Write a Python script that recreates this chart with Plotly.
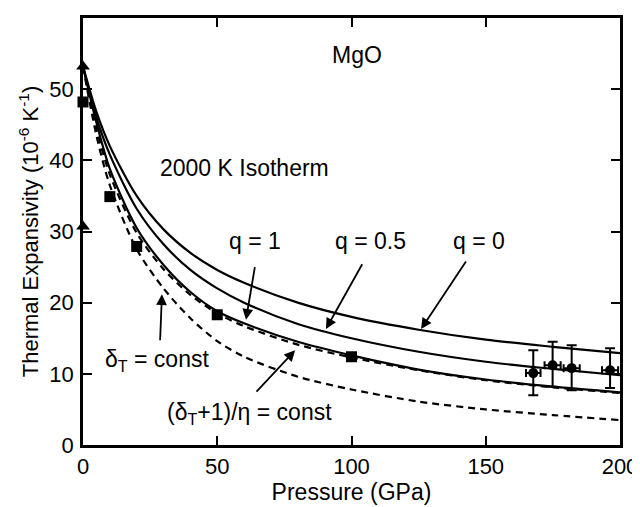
import plotly.graph_objects as go

# pressure grid (GPa) used for the read-off curve values
pressure = [0, 5, 10, 20, 30, 40, 50, 60, 80, 100, 125, 150, 175, 200]

# thermal expansivity (1e-6 / K)
alpha_q0 = [53.2, 46.8, 42.0, 35.0, 30.3, 27.0, 24.6, 22.8, 20.0, 18.0, 16.2, 14.8, 13.8, 12.9]
alpha_q05 = [53.2, 46.0, 40.8, 33.2, 28.2, 24.6, 22.0, 20.0, 17.0, 15.0, 13.1, 11.7, 10.7, 9.8]
alpha_q1 = [53.2, 45.3, 38.8, 30.5, 25.3, 21.5, 18.8, 17.1, 14.5, 12.6, 10.6, 9.2, 8.2, 7.4]
alpha_eta = [53.2, 44.5, 38.0, 29.8, 24.7, 21.1, 18.5, 16.7, 14.1, 12.3, 10.5, 9.1, 8.1, 7.3]
alpha_delta = [53.2, 43.5, 36.5, 27.5, 22.0, 17.8, 14.6, 12.4, 9.6, 7.8, 6.1, 5.0, 4.2, 3.5]

# measured points
sq_p = [0, 10, 20, 50, 100]
sq_a = [48.2, 34.9, 27.9, 18.3, 12.4]
tri_p = [0, 0]
tri_a = [53.2, 30.7]
err_p = [167.7, 174.9, 182.0, 196.3]
err_a = [10.1, 11.2, 10.8, 10.5]
err_up = [3.2, 3.3, 3.2, 3.1]
err_dn = [3.1, 3.0, 3.1, 2.5]
err_px = [2.7, 3.0, 3.0, 3.0]

FONT = "Liberation Sans, Arial, sans-serif"

fig = go.Figure()

solid = dict(color="black", width=2.2, shape="spline", smoothing=0.8)
dashed = dict(color="black", width=2.2, dash="7px,5px", shape="spline", smoothing=0.8)

for ys in (alpha_q0, alpha_q05, alpha_q1):
    fig.add_trace(go.Scatter(x=pressure, y=ys, mode="lines", line=solid))
for ys in (alpha_eta, alpha_delta):
    fig.add_trace(go.Scatter(x=pressure, y=ys, mode="lines", line=dashed))

fig.add_trace(go.Scatter(
    x=sq_p, y=sq_a, mode="markers", cliponaxis=False,
    marker=dict(symbol="square", size=11, color="black"),
))
fig.add_trace(go.Scatter(
    x=tri_p, y=tri_a, mode="markers", cliponaxis=False,
    marker=dict(symbol="triangle-up", size=12, color="black"),
))
fig.add_trace(go.Scatter(
    x=err_p, y=err_a, mode="markers", cliponaxis=False,
    marker=dict(symbol="circle", size=10, color="black"),
    error_y=dict(type="data", symmetric=False, array=err_up, arrayminus=err_dn,
                 color="black", thickness=2, width=5),
    error_x=dict(type="data", array=err_px, color="black", thickness=2, width=4),
))

# labels and arrows (tail -> tip in data coordinates)
texts = [
    ("MgO", 102, 54.8),
    ("2000 K Isotherm", 60.3, 38.9),
    ("q = 1", 64.1, 28.6),
    ("q = 0.5", 106.9, 28.6),
    ("q = 0", 147.5, 28.6),
    ("δ<sub>T</sub> = const", 27.6, 11.9),
    ("(δ<sub>T</sub>+1)/η = const", 62.0, 4.4),
]
for t, x, y in texts:
    fig.add_annotation(x=x, y=y, text=t, showarrow=False,
                       font=dict(family=FONT, size=23, color="black"))

arrows = [
    ((28.7, 14.5), (29.4, 21.2)),
    ((64.1, 7.3), (79.0, 13.3)),
    ((64.1, 25.2), (60.7, 17.6)),
    ((104.3, 25.6), (90.5, 16.3)),
    ((143.0, 26.0), (125.9, 16.3)),
]
for (tx, ty), (hx, hy) in arrows:
    fig.add_annotation(x=hx, y=hy, ax=tx, ay=ty, axref="x", ayref="y",
                       text="", showarrow=True, arrowhead=2, arrowsize=1.2,
                       arrowwidth=1.8, arrowcolor="black")

axis = dict(showline=True, linecolor="black", linewidth=2.5, mirror="ticks",
            ticks="inside", ticklen=9, tickwidth=2, tickcolor="black",
            showgrid=False, zeroline=False, automargin=False,
            tickfont=dict(family=FONT, size=22, color="black"))

fig.update_xaxes(range=[0, 200], tickvals=[0, 50, 100, 150, 200], ticklabelstandoff=0,
                 title=dict(text="Pressure (GPa)", standoff=0,
                            font=dict(family=FONT, size=23, color="black")),
                 **axis)
fig.update_yaxes(range=[0, 60], tickvals=[0, 10, 20, 30, 40, 50, 60], ticklabelstandoff=2,
                 title=dict(text="Thermal Expansivity (10<sup>-6</sup> K<sup>-1</sup>)",
                            standoff=5, font=dict(family=FONT, size=22, color="black")),
                 **axis)

# the page puts the figure 8 px in from the corner, so size and margins allow for it
fig.update_layout(
    width=632, height=499,
    margin=dict(l=75, r=20, t=10, b=62),
    showlegend=False,
    plot_bgcolor="white", paper_bgcolor="white",
)

fig.write_html("out.html")
